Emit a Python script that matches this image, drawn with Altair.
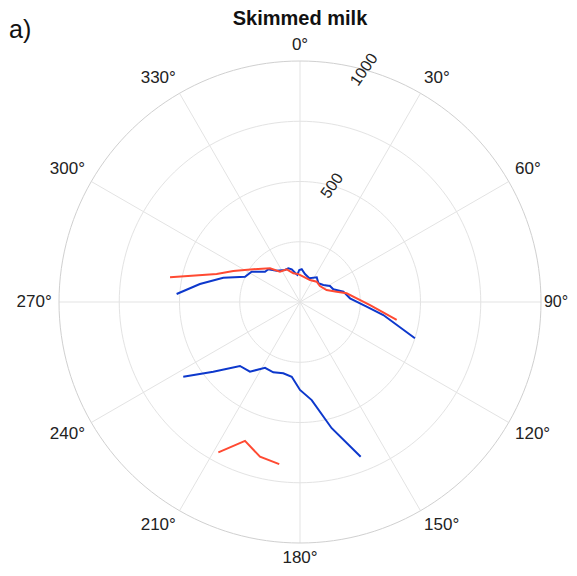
import altair as alt
import pandas as pd

# ---- data (angle in degrees clockwise from north, radius in data units) ----
blue_upper_theta = [273.7, 280.2, 287.6, 294.7, 302.1, 310.9, 315.9, 323.3, 334.9, 340.9,
                    345.8, 350.3, 354.3, 358.7, 363.0, 370.1, 381.4, 394.1, 404.4, 413.9,
                    421.9, 429.1, 436.6, 445.8, 454.0, 458.9, 467.5]
blue_upper_r = [513, 422, 334, 251, 237, 192, 189, 162, 147, 148,
                140, 123, 113, 133, 136, 118, 106, 124, 109, 120,
                141, 148, 185, 208, 277, 350, 500]
blue_lower_theta = [237.4, 231.2, 223.2, 215.7, 208.0, 200.8, 193.2, 186.3, 180.0, 173.2, 165.9, 158.6]
blue_lower_r = [575, 462, 364, 356, 309, 312, 304, 312, 365, 410, 540, 690]

red_upper_theta = [280.8, 288.6, 294.9, 305.0, 318.3, 326.6, 337.9, 346.9, 356.5, 367.4,
                   384.4, 399.4, 411.3, 425.8, 434.3, 439.4, 446.3, 452.5, 460.5]
red_upper_r = [549, 365, 305, 237, 187, 151, 146, 122, 116, 106,
               100, 109, 106, 121, 158, 197, 236, 291, 408]
red_lower_theta = [208.5, 201.6, 194.5, 187.3]
red_lower_r = [710, 620, 663, 678]

grid_radii = [250, 500, 750, 1000]
spoke_angles = list(range(0, 360, 30))
angle_labels = [f"{a}°" for a in spoke_angles]
radial_tick_values = [500, 1000]
radial_tick_labels = ["500", "1000"]
radial_label_theta = 15.4
chart_title = "Skimmed milk"
panel_label = "a)"

BLUE = "#0d38cc"
RED = "#ff4a32"
GRID = "#e3e3e3"
OUTER = "#d0d0d0"
FONT = "Liberation Sans"
R_MAX = 1000

# ---- build tables ----
rows = []
for series, seg, th, rr in [("blue", "b1", blue_upper_theta, blue_upper_r),
                            ("blue", "b2", blue_lower_theta, blue_lower_r),
                            ("red", "r1", red_upper_theta, red_upper_r),
                            ("red", "r2", red_lower_theta, red_lower_r)]:
    for i, (t, r) in enumerate(zip(th, rr)):
        rows.append({"series": series, "seg": seg, "idx": i, "theta": t, "r": r})
lines_df = pd.DataFrame(rows)

circ_rows = []
for r in grid_radii:
    for t in range(0, 361, 2):
        circ_rows.append({"ring": r, "theta": t, "r": r, "idx": t})
circ_df = pd.DataFrame(circ_rows)

spoke_rows = []
for a in spoke_angles:
    spoke_rows.append({"spoke": a, "theta": a, "r": 0, "idx": 0})
    spoke_rows.append({"spoke": a, "theta": a, "r": R_MAX, "idx": 1})
spoke_df = pd.DataFrame(spoke_rows)

lab_rows = []
for a, txt in zip(spoke_angles, angle_labels):
    if a in (0, 180):
        al = "center"
    elif a < 180:
        al = "left"
    else:
        al = "right"
    if a in (90, 270):
        bl = "middle"
    elif a < 90 or a > 270:
        bl = "bottom"
    else:
        bl = "top"
    rr = R_MAX * (1.012 if a == 90 else 1.03)
    fs = 16 if a == 90 else 17
    lab_rows.append({"theta": a, "r": rr, "text": txt, "al": al, "bl": bl, "fs": fs})
lab_df = pd.DataFrame(lab_rows)

rad_df = pd.DataFrame({"theta": [radial_label_theta] * len(radial_tick_values),
                       "r": radial_tick_values, "text": radial_tick_labels})

xs = alt.Scale(domain=[-R_MAX, R_MAX], nice=False, zero=False)
ys = alt.Scale(domain=[-R_MAX, R_MAX], nice=False, zero=False)
X = alt.X("x:Q", scale=xs, axis=None)
Y = alt.Y("y:Q", scale=ys, axis=None)


def polar(ch):
    return ch.transform_calculate(
        x="datum.r * sin(datum.theta * PI / 180)",
        y="datum.r * cos(datum.theta * PI / 180)",
    )


inner_circles = polar(alt.Chart(circ_df[circ_df.ring < R_MAX]).mark_line(strokeWidth=1, color=GRID)).encode(
    x=X, y=Y, detail="ring:N", order="idx:Q"
)
spokes = polar(alt.Chart(spoke_df).mark_line(strokeWidth=1, color=GRID)).encode(
    x=X, y=Y, detail="spoke:N", order="idx:Q"
)
outer_circle = polar(alt.Chart(circ_df[circ_df.ring == R_MAX]).mark_line(strokeWidth=1, color=OUTER)).encode(
    x=X, y=Y, detail="ring:N", order="idx:Q"
)
data_lines = polar(alt.Chart(lines_df).mark_line(strokeWidth=2)).encode(
    x=X, y=Y, detail="seg:N", order="idx:Q",
    color=alt.Color("series:N", scale=alt.Scale(domain=["blue", "red"], range=[BLUE, RED]), legend=None),
)

label_layers = []
for al in ["left", "center", "right"]:
    for bl in ["top", "middle", "bottom"]:
        for fs in [16, 17]:
            sub = lab_df[(lab_df.al == al) & (lab_df.bl == bl) & (lab_df.fs == fs)]
            if len(sub) == 0:
                continue
            label_layers.append(
                polar(alt.Chart(sub).mark_text(align=al, baseline=bl, fontSize=fs, font=FONT, color="#222222"))
                .encode(x=X, y=Y, text="text:N")
            )

radial_labels = polar(alt.Chart(rad_df).mark_text(
    align="center", baseline="middle", angle=305, fontSize=16, font=FONT, color="#222222"
)).encode(x=X, y=Y, text="text:N")

title_df = pd.DataFrame({"text": [chart_title]})
title_mark = alt.Chart(title_df).mark_text(
    fontSize=20, fontWeight="bold", font=FONT, align="center", baseline="alphabetic", color="#111111"
).encode(x=alt.value(241), y=alt.value(-36), text="text:N")

panel_df = pd.DataFrame({"text": [panel_label]})
panel_mark = alt.Chart(panel_df).mark_text(
    fontSize=25, font=FONT, align="left", baseline="alphabetic", color="#111111"
).encode(x=alt.value(-50), y=alt.value(-23), text="text:N")

chart = alt.layer(
    inner_circles, spokes, outer_circle, data_lines, *label_layers, radial_labels, title_mark, panel_mark
).properties(
    width=482, height=482,
    autosize=alt.AutoSizeParams(type="none"),
    padding={"left": 51, "top": 53, "right": 28, "bottom": 24},
).configure_view(stroke=None)

chart.save("out.html", embed_options={"renderer": "svg", "actions": False})
